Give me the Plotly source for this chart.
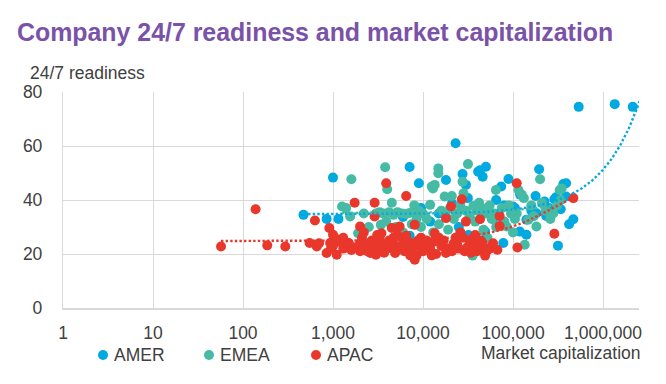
import numpy as np
import plotly.graph_objects as go

# ---------------- data ----------------
SERIES_NAMES = ["AMER", "EMEA", "APAC"]
SERIES_COLORS = ["#00A9E0", "#45BBA5", "#E9372B"]

AMER_CAP = [470, 850, 1150, 1000, 3800, 7100, 6000, 7100, 9000, 9500,
            12000, 15000, 18000, 21000, 23000, 25000, 27500, 30000, 31500, 32000,
            36000, 41000, 43000, 46000, 49000, 50000, 52500, 60000, 65000, 74000,
            78000, 80000, 89000, 100000, 105000, 119000, 120000, 141000, 141000, 160000,
            178000, 182000, 195000, 224000, 234000, 250000, 288000, 300000, 316000, 339000,
            363000, 389000, 389000, 420000, 468000, 537000, 1350000, 2140000]
AMER_READY = [34.5, 33, 33, 48.3, 22.2, 52.2, 33.7, 26.8, 46.2, 37,
              32, 35, 47.4, 38.8, 61, 30, 49.6, 45.6, 40.7, 27,
              24.1, 50.5, 51, 48.6, 28.3, 52.3, 35.7, 33, 40, 45,
              24.1, 38, 47.8, 37.6, 37, 28.3, 42, 27.1, 32.7, 36,
              41.5, 35.1, 51.4, 39.4, 34.1, 37, 40.3, 41, 23.1, 36.6,
              45.9, 46.2, 41.3, 31, 32.9, 74.5, 75.5, 74.5]

EMEA_CAP = [1260, 1400, 1600, 1550, 1900, 2200, 2500, 3000, 3300, 3400,
            3600, 3800, 3900, 4000, 4200, 4500, 4700, 5000, 5200, 5800,
            6000, 6500, 7100, 7500, 8000, 8500, 9000, 9500, 10000, 11000,
            12000, 12500, 12900, 13000, 13500, 14800, 14800, 15000, 16000, 17400,
            18000, 19000, 20000, 20900, 22000, 24000, 26000, 27500, 28200, 30000,
            31600, 33000, 35500, 36000, 36300, 38000, 40000, 42000, 45000, 47000,
            50000, 52000, 55000, 58000, 62000, 64600, 65000, 70000, 75000, 80000,
            85000, 90000, 95000, 100000, 105000, 110000, 115000, 125000, 132000, 135000,
            148000, 160000, 170000, 182000, 200000, 210000, 230000, 260000, 280000, 310000,
            331000, 347000, 340000]
EMEA_READY = [37.6, 37, 47.7, 33.9, 27.7, 35, 30, 35, 35.5, 30.8,
              35, 52.1, 32, 44, 35.5, 39, 34.5, 30, 35.5, 35,
              28, 34.8, 35.2, 31, 38, 33, 36, 30, 35, 33,
              38.2, 45, 44.3, 28, 45.6, 51.7, 49.9, 31, 36, 41.3,
              34, 29, 37, 41.5, 33, 35, 38, 46.8, 42.5, 36,
              53.3, 34, 19.4, 22, 37.8, 32, 36, 39, 37, 29,
              35, 26, 38, 33, 35, 43.7, 30, 34, 37, 32,
              30.2, 38, 35, 28, 33, 35, 43.7, 42, 40.7, 23.4,
              32.7, 38, 34, 30.2, 47.7, 39, 36, 33, 35, 38,
              43.7, 44.3, 40]

APAC_CAP = [57, 138, 186, 295, 550, 630, 660, 700, 850, 910,
            930, 1000, 1100, 1200, 1300, 1480, 1600, 1740, 2000, 2000,
            2100, 2200, 2300, 2500, 2600, 2700, 2900, 2900, 3000, 3200,
            3300, 3500, 3900, 4000, 4200, 4500, 4900, 5000, 5200, 5500,
            6000, 6200, 6500, 7000, 7500, 8100, 8100, 8500, 9000, 9500,
            10000, 11000, 11500, 12000, 13500, 14000, 15000, 16000, 18000, 18000,
            20500, 22000, 25000, 26000, 27000, 28000, 30000, 33000, 36000, 38000,
            40000, 43000, 44000, 49000, 55000, 60000, 67000, 71000, 71000, 110000,
            112000, 288000, 468000, 1000, 1100, 1300, 1800, 2400, 2800, 3100,
            3700, 4300, 4700, 5600, 6600, 7200, 7800, 8800, 10500, 12500,
            13000, 17000, 19000, 21000, 23000, 24000, 29000, 31000, 34000, 37000,
            42000, 46000, 51000, 3000, 2000, 1500, 950, 3450, 6500, 23500]
APAC_READY = [22.8, 36.6, 23.2, 22.8, 24.1, 32.4, 22.8, 24, 20.4, 29.6,
              24.1, 27.1, 19.7, 24.5, 22, 24.1, 21.5, 39, 30.2, 24,
              26, 28, 22, 24, 20.4, 25, 39, 33.9, 19.7, 22,
              26, 24, 46.2, 22, 25, 29.6, 20.4, 23, 27, 30.2,
              25, 21, 41.5, 22, 24, 30.8, 17.9, 19.5, 23, 26,
              21, 25, 23.5, 22, 27.7, 20, 26, 23, 33.3, 20.4,
              37.6, 24, 22, 28, 40.3, 26, 32, 25, 23, 27,
              21, 32.9, 25, 19.4, 22, 24, 21.6, 34.1, 30.4, 46.2,
              22.4, 27.5, 40.7, 23, 25.5, 26, 22.5, 21, 23, 27,
              20.5, 23.5, 26, 22.5, 24, 19.5, 22.5, 25, 24, 19.5,
              24.5, 25, 22, 21, 26, 23.5, 21, 22.5, 20.5, 24.5,
              22.5, 24, 21, 24.5, 21, 24, 22, 27.7, 26.8, 24.1]

# trendline coefficients: readiness = a + b*cap + c*cap^2
AMER_TREND = [34.8, 1.64e-5, 0.0]
EMEA_TREND = [35.2, 1.0e-5, 0.0]
APAC_TREND = [24.8, 5.93e-5, -5.34e-11]

CAP_TICKS = [1, 10, 100, 1000, 10000, 100000, 1000000]
CAP_TICK_LABELS = ["1", "10", "100", "1,000", "10,000", "100,000", "1,000,000"]
READY_TICKS = [0, 20, 40, 60, 80]

TITLE = "Company 24/7 readiness and market capitalization"
Y_TITLE = "24/7 readiness"
X_TITLE = "Market capitalization"

# ---------------- figure ----------------
W, H = 666, 384
L, R, T, B = 63, 27, 92, 76
PW, PH = W - L - R, H - T - B
FONT = "Liberation Sans, Arial, sans-serif"
TXT = "#404040"
GRID = "#D9D9D9"

def px_x(px):
    return (px - L) / PW

def px_y(py):
    return (H - B - py) / PH

fig = go.Figure()
caps = [AMER_CAP, EMEA_CAP, APAC_CAP]
readys = [AMER_READY, EMEA_READY, APAC_READY]
trends = [AMER_TREND, EMEA_TREND, APAC_TREND]

for name, col, xs, ys in zip(SERIES_NAMES, SERIES_COLORS, caps, readys):
    fig.add_trace(go.Scatter(x=xs, y=ys, mode="markers", name=name,
                             marker=dict(color=col, size=10, line=dict(width=0))))

x_ends = [10 ** 6.45, max(EMEA_CAP), max(APAC_CAP)]
for name, col, xs, tr, xe in zip(SERIES_NAMES, SERIES_COLORS, caps, trends, x_ends):
    xx = np.logspace(np.log10(min(xs)), np.log10(xe), 300)
    yy = tr[0] + tr[1] * xx + tr[2] * xx ** 2
    fig.add_trace(go.Scatter(x=xx, y=yy, mode="lines", name=name + " trend",
                             line=dict(color=col, width=2.4, dash="2.4px,2.2px"),
                             hoverinfo="skip", showlegend=False))

fig.update_layout(
    width=W, height=H,
    margin=dict(l=L, r=R, t=T, b=B),
    paper_bgcolor="white", plot_bgcolor="white",
    showlegend=False,
    font=dict(family=FONT, size=17.5, color=TXT),
    title=dict(text="<b>" + TITLE + "</b>", x=17 / W, xanchor="left",
               y=1 - 32 / H, yanchor="middle",
               font=dict(family=FONT, size=24.9, color="#7A52A8")),
)
fig.update_xaxes(type="log", range=[0, 6.4], tickvals=CAP_TICKS, ticktext=CAP_TICK_LABELS,
                 showgrid=True, gridcolor=GRID, gridwidth=1.3,
                 showline=True, linecolor=GRID, linewidth=2,
                 zeroline=False, ticks="", ticklabelstandoff=8)
fig.update_yaxes(range=[0, 80], tickvals=READY_TICKS,
                 showgrid=True, gridcolor=GRID, gridwidth=1.3,
                 showline=True, linecolor=GRID, linewidth=1.3,
                 zeroline=False, ticks="", ticklabelstandoff=16)

ann = [
    dict(text=Y_TITLE, x=px_x(28), y=px_y(73), xanchor="left", yanchor="middle"),
    dict(text=X_TITLE, x=px_x(643), y=px_y(353), xanchor="right", yanchor="middle"),
]
legend_dot_px = [103, 209, 316]
for name, col, lx in zip(SERIES_NAMES, SERIES_COLORS, legend_dot_px):
    fig.add_shape(type="circle", xref="paper", yref="paper",
                  xsizemode="pixel", ysizemode="pixel",
                  xanchor=px_x(lx), yanchor=px_y(355),
                  x0=-5, x1=5, y0=-5, y1=5,
                  fillcolor=col, line=dict(width=0))
    ann.append(dict(text=name, x=px_x(lx + 9), y=px_y(355), xanchor="left", yanchor="middle"))

for a in ann:
    a.update(xref="paper", yref="paper", showarrow=False,
             font=dict(family=FONT, size=17.5, color=TXT))
fig.update_layout(annotations=ann)

fig.write_html("out.html",
               config={"displayModeBar": False},
               post_script="document.body.style.margin='0';document.body.style.overflow='hidden';")
